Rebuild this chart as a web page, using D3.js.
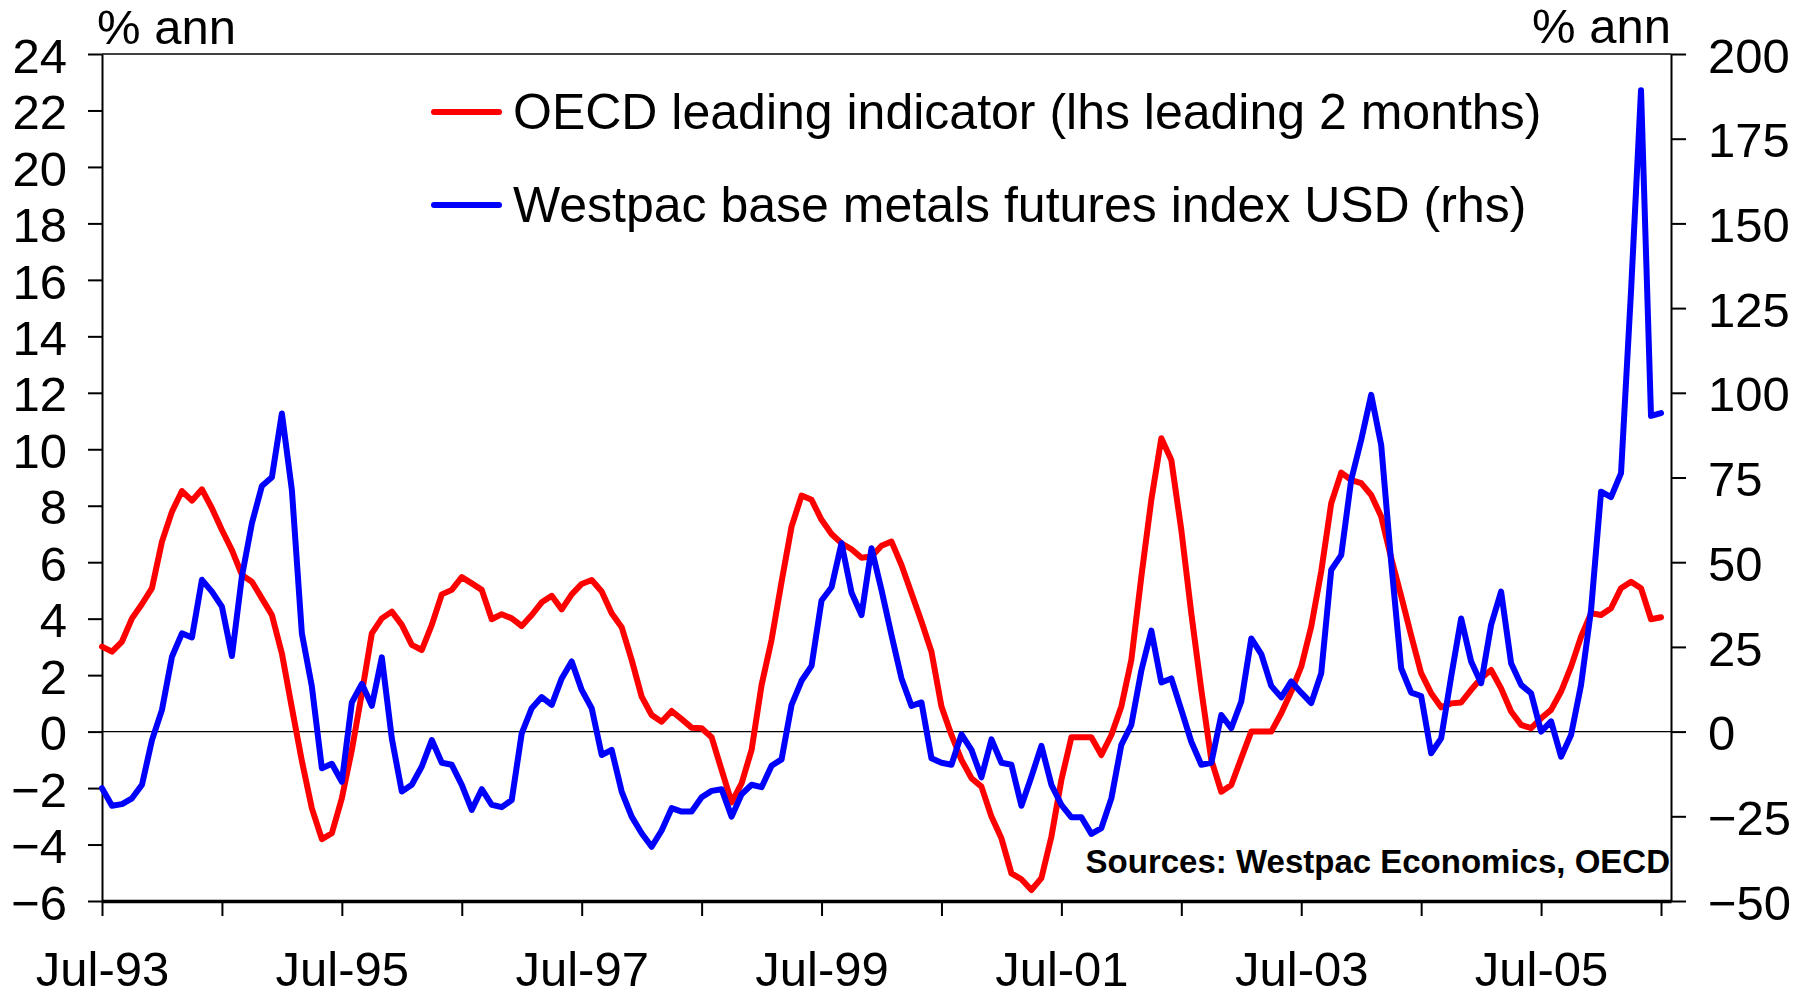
<!DOCTYPE html>
<html>
<head>
<meta charset="utf-8">
<script src="https://cdn.jsdelivr.net/npm/d3@7"></script>
<style>
  body { margin: 0; background: #fff; }
  svg { display: block; font-family: "Liberation Sans", Arial, sans-serif; }
</style>
</head>
<body>
<script>
// =================== Data ======================
// Monthly, Jul-93 to Jul-06 (the axis runs one month further, to Aug-06)
var months = d3.timeMonth.range(new Date(1993, 6, 1), new Date(2006, 7, 1));

// OECD leading indicator, % ann (lhs, leading 2 months)
var oecd = [
  3.01, 2.83, 3.19, 4.01, 4.52, 5.08, 6.73, 7.79, 8.52, 8.18, 8.58, 7.91,
  7.14, 6.43, 5.55, 5.31, 4.72, 4.13, 2.77, 0.84, -1.04, -2.72, -3.81, -3.60,
  -2.36, -0.65, 1.36, 3.48, 4.01, 4.25, 3.78, 3.07, 2.89, 3.78, 4.86, 5.02,
  5.47, 5.25, 5.02, 3.98, 4.16, 4.01, 3.74, 4.13, 4.58, 4.81, 4.33, 4.86,
  5.23, 5.37, 4.96, 4.19, 3.70, 2.54, 1.24, 0.59, 0.35, 0.73, 0.44, 0.14,
  0.12, -0.20, -1.36, -2.51, -1.83, -0.65, 1.65, 3.25, 5.31, 7.26, 8.36, 8.21,
  7.50, 7.00, 6.67, 6.46, 6.16, 6.20, 6.58, 6.73, 5.90, 4.90, 3.90, 2.83,
  0.89, -0.12, -1.00, -1.65, -1.95, -3.01, -3.78, -5.02, -5.23, -5.61, -5.19, -3.72,
  -1.71, -0.20, -0.20, -0.20, -0.83, -0.12, 0.89, 2.54, 5.49, 8.21, 10.39, 9.62,
  7.14, 4.19, 1.48, -1.00, -2.13, -1.89, -0.94, 0.00, 0.00, 0.00, 0.65, 1.42,
  2.30, 3.72, 5.67, 8.09, 9.17, 8.91, 8.80, 8.38, 7.62, 6.15, 4.80, 3.40,
  2.07, 1.36, 0.86, 1.00, 1.03, 1.48, 1.89, 2.18, 1.53, 0.71, 0.24, 0.12,
  0.47, 0.77, 1.42, 2.30, 3.36, 4.19, 4.13, 4.37, 5.08, 5.31, 5.08, 3.98,
  4.05
];

// Westpac base metals futures index USD, % ann (rhs)
var metals = [
  -16.7, -21.9, -21.4, -19.7, -15.7, -2.5, 6.4, 22.1, 29.0, 27.8, 44.8, 41.3,
  36.9, 22.3, 45.8, 61.5, 72.5, 75.1, 93.9, 71.3, 29.0, 13.3, -10.8, -9.5,
  -14.8, 8.6, 14.1, 7.6, 21.9, -2.0, -17.7, -15.7, -10.3, -2.5, -9.2, -9.8,
  -15.7, -23.1, -17.0, -21.6, -22.3, -20.2, -0.5, 6.9, 10.2, 7.9, 15.7, 20.7,
  12.3, 6.9, -6.9, -5.4, -17.7, -25.1, -30.0, -34.0, -29.2, -22.6, -23.6, -23.6,
  -19.4, -17.5, -17.0, -25.1, -18.5, -15.7, -16.4, -10.1, -8.2, 7.9, 15.0, 19.4,
  38.7, 42.6, 55.6, 41.0, 34.4, 54.1, 41.8, 28.5, 15.7, 7.6, 8.6, -7.9,
  -9.2, -9.8, -0.8, -5.4, -13.5, -2.3, -9.2, -9.8, -21.9, -13.3, -4.2, -15.7,
  -21.6, -25.3, -25.3, -30.2, -28.5, -19.7, -3.9, 2.0, 18.0, 29.8, 14.5, 15.7,
  6.4, -3.0, -9.8, -9.2, 4.9, 1.0, 8.9, 27.5, 22.9, 13.5, 10.1, 14.8,
  11.5, 8.4, 17.2, 47.7, 52.1, 74.3, 86.1, 99.4, 84.6, 50.0, 18.7, 11.5,
  10.5, -6.4, -2.0, 16.2, 33.4, 20.7, 14.3, 31.5, 41.3, 20.2, 13.8, 11.3,
  0.0, 3.0, -7.4, -1.0, 13.8, 35.9, 70.8, 69.2, 76.3, 130.0, 189.3, 93.2,
  94.0
];

var leftTicks = [-6, -4, -2, 0, 2, 4, 6, 8, 10, 12, 14, 16, 18, 20, 22, 24];
var rightTicks = [-50, -25, 0, 25, 50, 75, 100, 125, 150, 175, 200];
var monthTicks = d3.range(0, months.length, 12);   // every July
var legendLabels = ["OECD leading indicator (lhs leading 2 months)",
                    "Westpac base metals futures index USD (rhs)"];
var colors = ["#ff0000", "#0000ff"];

// =================== Chart Prep ======================
var W = 1807, H = 993;
var plot = {left: 102, right: 1671, top: 54, bottom: 901};
var fontSize = 49;

var x = d3.scaleLinear()
          .domain([0, months.length])   // one spare month at the right edge
          .range([plot.left, plot.right]);

var yL = d3.scaleLinear().domain([-6, 24]).range([plot.bottom, plot.top]);
var yR = d3.scaleLinear().domain([-50, 200]).range([plot.bottom, plot.top]);

var fmt = d3.timeFormat("%b-%y");

var svg = d3.select("body").append("svg")
            .attr("width", W)
            .attr("height", H);

// =================== Axes ======================
var gL = svg.append("g")
    .attr("transform", "translate(" + plot.left + ",0)")
    .call(d3.axisLeft(yL).tickValues(leftTicks).tickSize(14).tickSizeOuter(0).tickPadding(21));

var gR = svg.append("g")
    .attr("transform", "translate(" + plot.right + ",0)")
    .call(d3.axisRight(yR).tickValues(rightTicks).tickSize(15).tickSizeOuter(0).tickPadding(22));

var gB = svg.append("g")
    .attr("transform", "translate(0," + plot.bottom + ")")
    .call(d3.axisBottom(x).tickValues(monthTicks).tickSize(15).tickSizeOuter(0).tickPadding(35)
            .tickFormat(function(i) { return i % 24 === 0 ? fmt(months[i]) : ""; }));

[gL, gR, gB].forEach(function(g) {
  g.attr("font-family", null).attr("font-size", fontSize);
  g.selectAll("text").attr("fill", "#000");
  g.selectAll("line").attr("stroke", "#000").attr("stroke-width", 2);
  g.select(".domain").attr("stroke", "#000").attr("stroke-width", 2);
});
gL.selectAll("text").attr("dy", "0.37em");
gR.selectAll("text").attr("dy", "0.37em");
gB.select(".domain").attr("stroke-width", 3.5);

// top border and zero line
svg.append("line")
    .attr("x1", x(0)).attr("x2", x(months.length))
    .attr("y1", yL(24)).attr("y2", yL(24))
    .attr("stroke", "#000").attr("stroke-width", 1.6);

svg.append("line")
    .attr("x1", x(0)).attr("x2", x(months.length))
    .attr("y1", yL(0)).attr("y2", yL(0))
    .attr("stroke", "#000").attr("stroke-width", 1.4);

// axis unit labels
svg.append("text")
    .attr("x", 97).attr("y", 44)
    .attr("font-size", fontSize)
    .text("% ann");

svg.append("text")
    .attr("x", plot.right).attr("y", 43)
    .attr("text-anchor", "end")
    .attr("font-size", fontSize)
    .text("% ann");

// =================== Lines ======================
var lineL = d3.line()
    .x(function(d, i) { return x(i); })
    .y(function(d) { return yL(d); });

var lineR = d3.line()
    .x(function(d, i) { return x(i); })
    .y(function(d) { return yR(d); });

svg.append("path")
    .datum(oecd)
    .attr("d", lineL)
    .attr("fill", "none")
    .attr("stroke", colors[0])
    .attr("stroke-width", 6)
    .attr("stroke-linejoin", "round")
    .attr("stroke-linecap", "round");

svg.append("path")
    .datum(metals)
    .attr("d", lineR)
    .attr("fill", "none")
    .attr("stroke", colors[1])
    .attr("stroke-width", 6)
    .attr("stroke-linejoin", "round")
    .attr("stroke-linecap", "round");

// =================== Legend & source ======================
var legend = svg.selectAll(".legend")
    .data(legendLabels)
    .enter().append("g")
    .attr("class", "legend")
    .attr("transform", function(d, i) { return "translate(0," + (112 + i * 93) + ")"; });

legend.append("line")
    .attr("x1", 434).attr("x2", 499)
    .attr("stroke", function(d, i) { return colors[i]; })
    .attr("stroke-width", 6)
    .attr("stroke-linecap", "round");

legend.append("text")
    .attr("x", 513).attr("y", 17)
    .attr("font-size", 50)
    .text(function(d) { return d; });

svg.append("text")
    .attr("x", 1670).attr("y", 873)
    .attr("text-anchor", "end")
    .attr("font-size", 33)
    .attr("font-weight", "bold")
    .text("Sources: Westpac Economics, OECD");
</script>
</body>
</html>
